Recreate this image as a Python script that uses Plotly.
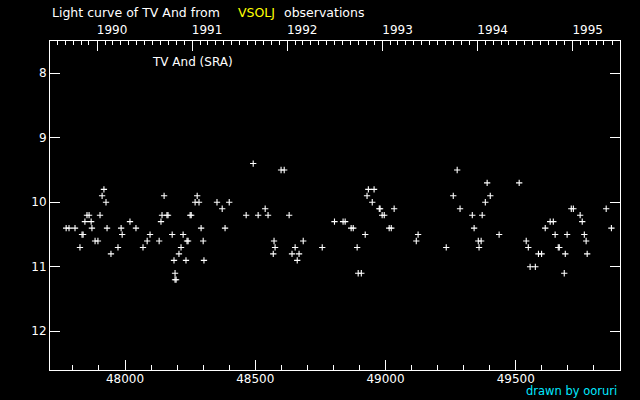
import plotly.graph_objects as go
from datetime import datetime, timedelta

# Julian Date - 2400000 and visual magnitude
jd = [47774, 47785, 47808, 47827, 47835, 47839, 47846, 47854, 47862, 47870,
      47873, 47885, 47896, 47904, 47912, 47919, 47927, 47931, 47946, 47973,
      47985, 47989, 48019, 48042, 48069,
      48085, 48096, 48131, 48138, 48142, 48150, 48161, 48165, 48181, 48188,
      48192, 48192, 48196, 48207, 48215, 48223, 48234, 48238, 48242, 48250,
      48254, 48269, 48277, 48284, 48292, 48300, 48303, 48353, 48373, 48384,
      48400,
      48465, 48492, 48511, 48538, 48549, 48569, 48572, 48576, 48599, 48611,
      48630, 48641, 48653, 48661, 48668, 48684, 48757,
      48804, 48837, 48845, 48868, 48876, 48891, 48895, 48907, 48922, 48929,
      48934, 48949, 48956, 48976, 48979, 48987, 48995, 49014, 49022, 49033,
      49118, 49125,
      49233, 49260, 49275, 49286, 49333, 49340, 49356, 49359, 49367, 49371,
      49383, 49390, 49402, 49436, 49513,
      49540, 49548, 49555, 49575, 49587, 49599, 49613, 49632, 49644, 49651,
      49663, 49667, 49686, 49690, 49697, 49713, 49721, 49747, 49755, 49763,
      49770, 49774, 49847, 49867]
mag = [10.4, 10.4, 10.4, 10.7, 10.5, 10.5, 10.3, 10.2, 10.2, 10.3,
       10.4, 10.6, 10.6, 10.2, 9.9, 9.8, 10.0, 10.4, 10.8, 10.7,
       10.4, 10.5, 10.3, 10.4, 10.7,
       10.6, 10.5, 10.6, 10.3, 10.2, 9.9, 10.2, 10.2, 10.5, 10.9,
       11.1, 11.2, 11.2, 10.8, 10.7, 10.5, 10.9, 10.6, 10.6, 10.2,
       10.2, 10.0, 9.9, 10.0, 10.4, 10.6, 10.9, 10.0, 10.1, 10.4,
       10.0,
       10.2, 9.4, 10.2, 10.1, 10.2, 10.8, 10.6, 10.7, 9.5, 9.5,
       10.2, 10.8, 10.7, 10.9, 10.8, 10.6, 10.7,
       10.3, 10.3, 10.3, 10.4, 10.4, 10.7, 11.1, 11.1, 10.5, 9.9,
       9.8, 10.0, 9.8, 10.1, 10.1, 10.2, 10.2, 10.4, 10.4, 10.1,
       10.6, 10.5,
       10.7, 9.9, 9.5, 10.1, 10.2, 10.4, 10.6, 10.7, 10.6, 10.2,
       10.0, 9.7, 9.9, 10.5, 9.7,
       10.6, 10.7, 11.0, 11.0, 10.8, 10.8, 10.4, 10.3, 10.3, 10.5,
       10.7, 10.7, 11.1, 10.8, 10.5, 10.1, 10.1, 10.2, 10.3, 10.5,
       10.6, 10.8, 10.1, 10.4]

x_range = [47712, 49900]
y_range = [12.6, 7.5]
x_ticks = [48000, 48500, 49000, 49500]
y_ticks = [8, 9, 10, 11, 12]


def jd_to_date(v):
    # v = JD - 2400000 ; MJD = v - 0.5 ; MJD 0 = 1858-11-17
    return datetime(1858, 11, 17) + timedelta(days=v - 0.5)


FONT = "DejaVu Sans"
W, H = 640, 400
ML, MR, MT, MB = 50, 20, 41, 30
PW = W - ML - MR
PH = H - MT - MB


def px(xp):
    return (xp - ML) / PW


def py(yp):
    return (H - MB - yp) / PH


fig = go.Figure()
fig.add_trace(go.Scatter(
    x=jd, y=mag, mode="markers",
    marker=dict(symbol="cross-thin-open", size=4.5,
                line=dict(color="white", width=1.1), color="white"),
    showlegend=False, hoverinfo="skip"))

axis_common = dict(showline=True, linecolor="white", linewidth=1,
                   showgrid=False, zeroline=False, ticks="inside",
                   tickcolor="white", tickwidth=1, automargin=False,
                   tickfont=dict(family=FONT, size=12, color="white"))

fig.update_layout(
    width=W, height=H,
    margin=dict(l=ML, r=MR, t=MT, b=MB, autoexpand=False),
    paper_bgcolor="black", plot_bgcolor="black",
    xaxis=dict(range=x_range, tickmode="array", tickvals=x_ticks,
               tickformat="d", ticklen=10, mirror=False,
               ticklabelstandoff=-2,
               minor=dict(dtick=100, tick0=48000, ticks="inside",
                          ticklen=5, tickcolor="white", tickwidth=1),
               **axis_common),
    xaxis2=dict(type="date", overlaying="x", side="top", anchor="y",
                range=[jd_to_date(x_range[0]), jd_to_date(x_range[1])],
                dtick="M12", tick0="1990-01-01", tickformat="%Y",
                ticklen=10, ticklabelshift=15, ticklabelstandoff=1,
                minor=dict(dtick="M1", tick0="1990-01-01", ticks="inside",
                           ticklen=4, tickcolor="white", tickwidth=1),
                **axis_common),
    yaxis=dict(range=y_range, tickmode="array", tickvals=y_ticks,
               ticklen=10, mirror="ticks", **axis_common),
    annotations=[
        dict(text="Light curve of TV And from", x=px(50), y=py(12),
             xref="paper", yref="paper", xanchor="left", yanchor="middle",
             showarrow=False, font=dict(family=FONT, size=12.5, color="white")),
        dict(text="VSOLJ", x=px(236), y=py(12),
             xref="paper", yref="paper", xanchor="left", yanchor="middle",
             showarrow=False, font=dict(family=FONT, size=12.5, color="#ffff00")),
        dict(text="observations", x=px(282), y=py(12),
             xref="paper", yref="paper", xanchor="left", yanchor="middle",
             showarrow=False, font=dict(family=FONT, size=12.5, color="white")),
        dict(text="TV And (SRA)", x=px(150), y=py(62),
             xref="paper", yref="paper", xanchor="left", yanchor="middle",
             showarrow=False, font=dict(family=FONT, size=12, color="white")),
        dict(text="drawn by ooruri", x=px(619), y=py(391),
             xref="paper", yref="paper", xanchor="right", yanchor="middle",
             showarrow=False, font=dict(family=FONT, size=11.5, color="#00e8ff")),
    ],
)

# invisible helper trace so that the top date axis is drawn
fig.add_trace(go.Scatter(x=[jd_to_date(x_range[0])], y=[y_range[1]],
                         xaxis="x2", mode="markers", marker=dict(opacity=0),
                         showlegend=False, hoverinfo="skip"))

fig.write_html("out.html",
               config={"displayModeBar": False, "staticPlot": True},
               post_script="document.body.style.margin='0';"
                           "document.body.style.background='black';")
